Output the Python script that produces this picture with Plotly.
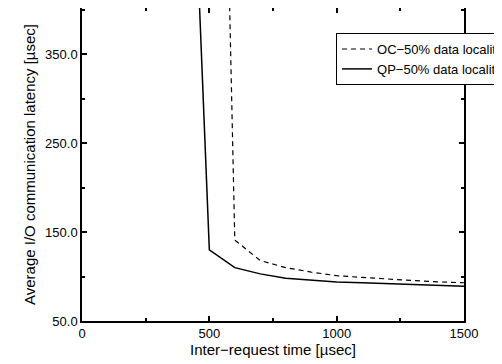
import plotly.graph_objects as go

x_qp = [400, 500, 600, 700, 800, 900, 1000, 1100, 1200, 1300, 1400, 1500]
y_qp = [840, 130, 110, 103, 98, 96, 94, 93, 92, 91, 90, 89]

x_oc = [500, 600, 700, 800, 900, 1000, 1100, 1200, 1300, 1400, 1500]
y_oc = [1436, 141, 118, 110, 105, 101, 99, 97, 95.5, 94, 93]

x_ticks = [0, 500, 1000, 1500]
y_ticks = [50, 150, 250, 350]

name_oc = "OC−50% data locality"
name_qp = "QP−50% data locality"

fig = go.Figure()
fig.add_trace(go.Scatter(x=x_oc, y=y_oc, mode="lines", name=name_oc,
                         line=dict(color="black", width=1.2, dash="5px,4px")))
fig.add_trace(go.Scatter(x=x_qp, y=y_qp, mode="lines", name=name_qp,
                         line=dict(color="black", width=1.5)))

font = "Liberation Sans, Arial, sans-serif"
axis_common = dict(showgrid=False, zeroline=False, showline=True, linecolor="black",
                   linewidth=1.5, mirror="ticks", ticks="inside", ticklen=5,
                   tickcolor="black", tickwidth=1.5,
                   tickfont=dict(family=font, size=13, color="black"))

# page body has an 8px margin, so the figure is 8px smaller than the window
fig.update_layout(
    width=494, height=356,
    margin=dict(l=74, r=38, t=0, b=43, autoexpand=False),
    paper_bgcolor="white", plot_bgcolor="white",
    font=dict(family=font, color="black"),
    legend=dict(x=0.665, y=0.92, xanchor="left", yanchor="top",
                bgcolor="white", bordercolor="black", borderwidth=1,
                font=dict(family=font, size=13, color="black"),
                tracegroupgap=0, itemwidth=30),
    showlegend=True,
)
fig.update_xaxes(range=[0, 1500], tickvals=x_ticks, ticktext=[str(v) for v in x_ticks],
                 minor=dict(dtick=250, ticklen=3, tickcolor="black", ticks="inside"),
                 title=dict(text="Inter−request time [µsec]", font=dict(family=font, size=15), standoff=2),
                 **axis_common)
fig.update_yaxes(range=[50, 402], tickvals=y_ticks, ticktext=[f"{v:.1f}" for v in y_ticks],
                 minor=dict(tick0=50, dtick=50, ticklen=3, tickcolor="black", ticks="inside"),
                 title=dict(text="Average I/O communication latency [µsec]", font=dict(family=font, size=15), standoff=6),
                 **axis_common)

fig.write_html("out.html")
